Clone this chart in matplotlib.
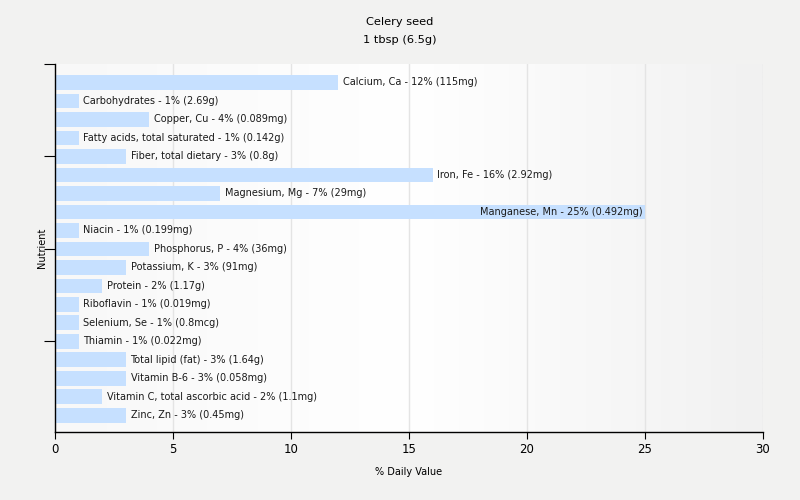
import numpy as np
import matplotlib
matplotlib.use("Agg")
import matplotlib.pyplot as plt
from matplotlib.colors import LinearSegmentedColormap

# Daten
nutrients = [
    "Calcium, Ca", "Carbohydrates", "Copper, Cu", "Fatty acids, total saturated",
    "Fiber, total dietary", "Iron, Fe", "Magnesium, Mg", "Manganese, Mn",
    "Niacin", "Phosphorus, P", "Potassium, K", "Protein", "Riboflavin",
    "Selenium, Se", "Thiamin", "Total lipid (fat)", "Vitamin B-6",
    "Vitamin C, total ascorbic acid", "Zinc, Zn",
]
daily_value = [12, 1, 4, 1, 3, 16, 7, 25, 1, 4, 3, 2, 1, 1, 1, 3, 3, 2, 3]
amounts = [
    "115mg", "2.69g", "0.089mg", "0.142g", "0.8g", "2.92mg", "29mg", "0.492mg",
    "0.199mg", "36mg", "91mg", "1.17g", "0.019mg", "0.8mcg", "0.022mg",
    "1.64g", "0.058mg", "1.1mg", "0.45mg",
]
x_ticks = [0, 5, 10, 15, 20, 25, 30]

plt.rcParams['font.family'] = ['DejaVu Sans']
bg = '#f2f2f1'

fig = plt.figure(figsize=(8, 5), dpi=100, facecolor=bg)
ax = fig.add_axes([55 / 800, 1 - 432 / 500, (763 - 55) / 800, (432 - 64) / 500])

# Hintergrundverlauf der Zeichenfläche
grad = LinearSegmentedColormap.from_list('bg', ['#f8f8f8', '#ffffff', '#f1f1f1'])
ax.imshow(np.linspace(0, 1, 256).reshape(1, -1), cmap=grad, aspect='auto',
          extent=[0, 30, 18.9, -1], zorder=0)

pos = np.arange(len(nutrients))
ax.barh(pos, daily_value, height=0.8, color='#c6e0ff', zorder=2)

for i, (name, v, a) in enumerate(zip(nutrients, daily_value, amounts)):
    label = f"{name} - {v}% ({a})"
    if v > 20:
        ax.text(v - 0.1, i, label, va='center', ha='right', fontsize=7, color='#1a1a1a', zorder=3)
    else:
        ax.text(v + 0.2, i, label, va='center', ha='left', fontsize=7, color='#1a1a1a', zorder=3)

ax.set_xlim(0, 30)
ax.set_ylim(18.9, -1)
ax.set_xticks(x_ticks)
ax.set_yticks([-1, 4, 9, 14])
ax.set_yticklabels([])
ax.xaxis.grid(True, color='#e4e4e4', linewidth=1, zorder=1)
ax.set_axisbelow(True)
for side in ['top', 'right']:
    ax.spines[side].set_visible(False)
ax.spines['left'].set_linewidth(1)
ax.spines['bottom'].set_linewidth(1)
ax.tick_params(axis='x', length=5, labelsize=8.5, pad=3)
ax.tick_params(axis='y', length=8)

ax.set_xlabel('% Daily Value', fontsize=7, labelpad=8)
fig.text(42 / 800, 1 - 248 / 500, 'Nutrient', rotation=90, ha='center', va='center', fontsize=7)
fig.text(0.5, 1 - 22 / 500, 'Celery seed', ha='center', va='center', fontsize=8.2)
fig.text(0.5, 1 - 40 / 500, '1 tbsp (6.5g)', ha='center', va='center', fontsize=8.2)

fig.savefig('out.png', dpi=100, facecolor=bg)
